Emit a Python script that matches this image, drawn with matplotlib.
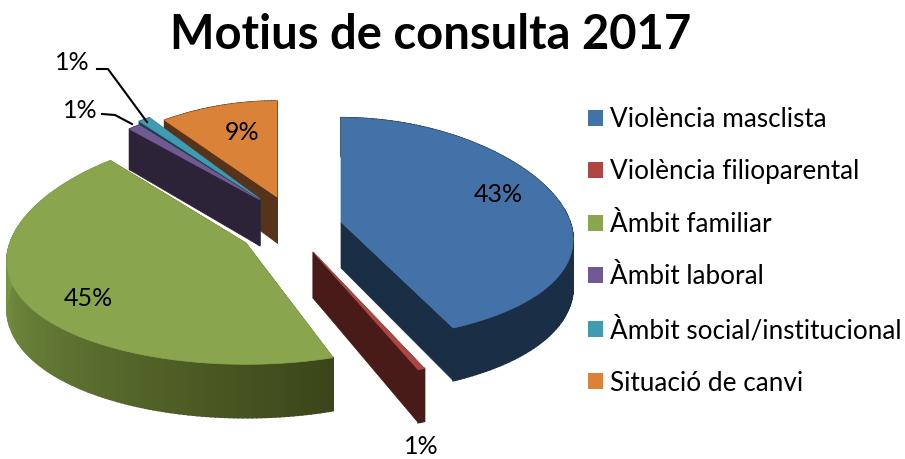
import matplotlib
matplotlib.use("Agg")
import matplotlib.pyplot as plt
from matplotlib.patches import Polygon, Patch
import numpy as np

plt.rcParams['font.family'] = ['Lato', 'DejaVu Sans']

title = "Motius de consulta 2017"
categories = ["Violència masclista", "Violència filioparental", "Àmbit familiar",
              "Àmbit laboral", "Àmbit social/institucional", "Situació de canvi"]
values = [43, 1, 45, 1, 1, 9]

top_colors = ['#4372A8', '#AE4743', '#89A64E', '#715A93', '#3F9AB2', '#DB8239']
side_colors = ['#1A2E46', '#481B18', '#3A4519', '#2D2338', '#17414D', '#57331A']

# where each exploded slice has its tip on the canvas, in pixels
tips = [(341, 222), (313, 252), (246, 243), (260, 200), (260, 199), (277, 197)]
# the perspective of the original bends the exploded slices a bit
sizes = [1.0, 1.08, 1.03, 0.93, 0.95, 0.92]
start_nudge = [0, 2.2, 3, -4.5, -3.5, -5.5]
end_nudge = [0, 0, -1.4, -4.5, -3.5, 0]
label_pos = [(498, 194), (421, 446), (88, 299), (80, 111), (72, 63), (242, 133)]
draw_order = [5, 4, 3, 2, 1, 0]

rx, ry = 229, 111
persp_x, persp_y = 0.167, 0.061
depth, persp_d = 46, 0.16


def project(t, tip, r=1.0):
    X = r * np.sin(t)
    Y = -r * np.cos(t)
    return tip[0] + rx * X * (1 + persp_x * Y / r), tip[1] + ry * Y * (1 + persp_y * Y / r)


def drop(t):
    return depth * (1 + persp_d * -np.cos(t))


fig = plt.figure(figsize=(9.05, 4.59), dpi=100)
ax = fig.add_axes([0, 0, 1, 1])
ax.set_xlim(0, 905)
ax.set_ylim(459, 0)
ax.axis('off')

edges = np.cumsum([0] + values) / sum(values) * 2 * np.pi

for i in draw_order:
    t0 = edges[i] + np.radians(start_nudge[i])
    t1 = edges[i + 1] + np.radians(end_nudge[i])
    tip = tips[i]
    size = sizes[i]
    ts = np.linspace(t0, t1, max(int((t1 - t0) * 60), 3))
    xs, ys = project(ts, tip, size)
    ds = drop(ts)

    # flat walls of the cut
    for t in (t0, t1):
        x, y = project(t, tip, size)
        ax.add_patch(Polygon([(tip[0], tip[1]), (x, y), (x, y + drop(t)), (tip[0], tip[1] + depth)],
                             fc=side_colors[i], ec=side_colors[i], lw=0.5))

    # curved outer wall, the green one gets lighter towards the left
    for j in range(len(ts) - 1):
        c = np.array(matplotlib.colors.to_rgb(side_colors[i]))
        if i == 2:
            f = (ts[j] - t0) / (t1 - t0)
            c = c + (np.array(matplotlib.colors.to_rgb('#7A9643')) - c) * min(f * 1.45, 1)
        quad = [(xs[j], ys[j]), (xs[j + 1], ys[j + 1]),
                (xs[j + 1], ys[j + 1] + ds[j + 1]), (xs[j], ys[j] + ds[j])]
        ax.add_patch(Polygon(quad, fc=c, ec=c, lw=1.2))

    pts = [tip] + list(zip(xs, ys))
    ax.add_patch(Polygon(pts, fc=top_colors[i], ec=top_colors[i], lw=0.5))

for i, v in enumerate(values):
    ax.text(label_pos[i][0], label_pos[i][1], f"{v}%", fontsize=18, color='black',
            ha='center', va='center')

# leader lines of the two small labels
ax.plot([97, 108, 147], [69, 69, 122], color='black', lw=1.5)
ax.plot([102, 115, 132], [114, 115, 124], color='black', lw=1.5)

ax.text(431, 35, title, fontsize=33.9, fontweight='bold', color='black', ha='center', va='center')

handles = [Patch(fc=c, ec='none') for c in top_colors]
ax.legend(handles, categories, loc='upper left', bbox_to_anchor=(588, 107), bbox_transform=ax.transData,
          frameon=False, fontsize=18.8, labelspacing=1.05, handlelength=0.575, handleheight=0.575,
          handletextpad=0.27, borderpad=0, borderaxespad=0)

fig.savefig("out.png", dpi=100)
